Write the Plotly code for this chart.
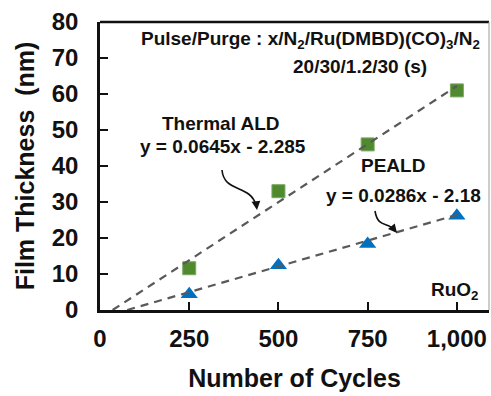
import plotly.graph_objects as go

# ---- data ----
cycles = [250, 500, 750, 1000]
thermal_nm = [11.6, 33.0, 46.0, 61.0]
peald_nm = [4.4, 12.4, 18.3, 26.2]
thermal_fit = (0.0645, -2.285)
peald_fit = (0.0286, -2.18)
x_ticks = [0, 250, 500, 750, 1000]
y_ticks = [0, 10, 20, 30, 40, 50, 60, 70, 80]

W, H = 491, 396
L, R, T, B = 100, 2, 22, 86
XMAX, YMAX = 1090, 80
PW, PH = W - L - R, H - T - B

def px2x(px):
    return (px - L) / PW * XMAX

def py2y(py):
    return (T + PH - py) / PH * YMAX

def pxp(px):
    return (px - L) / PW

def pyp(py):
    return (T + PH - py) / PH

FONT = "Liberation Sans, Arial, sans-serif"
fig = go.Figure()

fig.add_trace(go.Scatter(x=cycles, y=thermal_nm, mode="markers",
                         marker=dict(symbol="square", size=13, color="#4f8a2e",
                                     line=dict(color="#7aa862", width=1)),
                         showlegend=False))
fig.add_trace(go.Scatter(x=cycles, y=peald_nm, mode="markers",
                         marker=dict(symbol="triangle-up", size=15, color="#0070c0",
                                     line=dict(color="#0070c0", width=0)),
                         showlegend=False))

for m, b in (thermal_fit, peald_fit):
    x0 = -b / m
    fig.add_trace(go.Scatter(x=[x0, 1000], y=[m * x0 + b, m * 1000 + b], mode="lines",
                             line=dict(color="#595959", width=2.2, dash="8px,6px"),
                             showlegend=False, hoverinfo="skip"))

def ann(text, px, py, size=19, **kw):
    fig.add_annotation(text=text, x=pxp(px), y=pyp(py), xref="paper", yref="paper",
                       xanchor="center", yanchor="middle",
                       showarrow=False, font=dict(family=FONT, size=size, color="#111",
                                                  weight="bold"), **kw)

ann("Pulse/Purge : x/N<sub>2</sub>/Ru(DMBD)(CO)<sub>3</sub>/N<sub>2</sub>", 310, 40)
ann("20/30/1.2/30 (s)", 360, 66)
ann("Thermal ALD", 221, 123)
ann("y = 0.0645x - 2.285", 223, 146)
ann("PEALD", 393, 165)
ann("y = 0.0286x - 2.18", 403, 195)
ann("RuO<sub>2</sub>", 455, 291)

def curve(pts):
    (a, b), (c, d), (e, f), (g, h) = [(px2x(p), py2y(q)) for p, q in pts]
    return f"M {a},{b} C {c},{d} {e},{f} {g},{h}"

fig.add_shape(type="path", xref="x", yref="y",
              path=curve([(222, 170), (224, 193), (250, 184), (256, 205)]),
              line=dict(color="#111", width=1.6))
fig.add_shape(type="path", xref="x", yref="y",
              path=curve([(375, 211), (378, 229), (388, 221), (394, 230)]),
              line=dict(color="#111", width=1.6))

for tip, off in (((257, 210), (-1, -8)), ((397, 233), (-5, -6))):
    fig.add_annotation(x=px2x(tip[0]), y=py2y(tip[1]), xref="x", yref="y", text="",
                       showarrow=True, ax=off[0], ay=off[1], axref="pixel", ayref="pixel",
                       arrowhead=2, arrowsize=1.1, arrowwidth=1.6, arrowcolor="#111",
                       standoff=0, startstandoff=0)

# frame lines
fig.add_shape(type="line", xref="paper", yref="paper", x0=0, x1=1, y0=1, y1=1,
              line=dict(color="#111", width=2.5))
fig.add_shape(type="line", xref="paper", yref="paper", x0=1, x1=1, y0=0, y1=1,
              line=dict(color="#9a9a9a", width=1))

fig.update_xaxes(range=[0, XMAX], tickvals=x_ticks, tickformat=",d",
                 showgrid=False, zeroline=False, showline=True, linecolor="#111",
                 linewidth=2.5, ticks="inside", ticklen=8, tickwidth=2, tickcolor="#111",
                 ticklabelstandoff=5,
                 tickfont=dict(family=FONT, size=24, color="#111", weight="bold"),
                 title=dict(text="Number of Cycles", standoff=19,
                            font=dict(family=FONT, size=25, color="#111", weight="bold")))
fig.update_yaxes(range=[0, YMAX], tickvals=y_ticks,
                 showgrid=False, zeroline=False, showline=True, linecolor="#111",
                 linewidth=2.5, ticks="inside", ticklen=8, tickwidth=2, tickcolor="#111",
                 ticklabelstandoff=14,
                 tickfont=dict(family=FONT, size=24, color="#111", weight="bold"),
                 title=dict(text="Film Thickness  (nm)", standoff=10,
                            font=dict(family=FONT, size=25, color="#111", weight="bold")))

fig.update_layout(width=W, height=H, margin=dict(l=L, r=R, t=T, b=B),
                  paper_bgcolor="white", plot_bgcolor="white")

fig.write_html("out.html")
